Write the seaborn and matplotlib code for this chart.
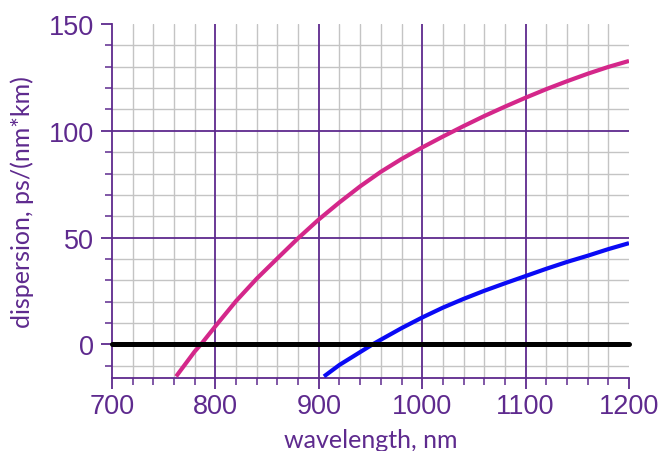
import numpy as np
import pandas as pd
import matplotlib
matplotlib.use("Agg")
import matplotlib.pyplot as plt
import seaborn as sns
from matplotlib.ticker import FixedLocator

# --- data ---
magenta_wl = [762, 780, 786, 800, 820, 840, 860, 880, 900, 920, 940, 960, 980, 1000,
              1020, 1040, 1060, 1080, 1100, 1120, 1140, 1160, 1180, 1200]
magenta_d = [-15, -3.3, 0, 8.5, 20.3, 30.8, 40.3, 49.7, 58.5, 66.5, 74, 80.8, 86.8, 92.2,
             97.3, 102.2, 106.9, 111.3, 115.5, 119.5, 123.2, 126.7, 129.9, 132.7]
blue_wl = [905, 920, 940, 952, 960, 980, 1000, 1020, 1040, 1060, 1080, 1100,
           1120, 1140, 1160, 1180, 1200]
blue_d = [-15, -9.6, -3.6, 0, 2.2, 7.6, 12.6, 17.2, 21.3, 25.1, 28.6, 32,
          35.4, 38.6, 41.5, 44.6, 47.4]
zero_wl = [700, 1200]
zero_d = [0, 0]
x_ticks = [700, 800, 900, 1000, 1100, 1200]
y_ticks = [0, 50, 100, 150]
x_minor = [720, 740, 760, 780, 820, 840, 860, 880, 920, 940, 960, 980,
           1020, 1040, 1060, 1080, 1120, 1140, 1160, 1180]
y_minor = [-10, 10, 20, 30, 40, 60, 70, 80, 90, 110, 120, 130, 140]

PURPLE = "#5e2a8e"
MAGENTA = "#d4278a"
BLUE = "#0a0af5"
GRID = "#c4c4c4"

sns.set_theme(style="white")
plt.rcParams["font.family"] = ["Liberation Sans", "DejaVu Sans"]

fig = plt.figure(figsize=(6.64, 4.52), dpi=100)
ax = fig.add_axes([112 / 664, (452 - 378.5) / 452, (629 - 112) / 664, (378.5 - 25) / 452])

df_m = pd.DataFrame({"wl": magenta_wl, "d": magenta_d})
df_b = pd.DataFrame({"wl": blue_wl, "d": blue_d})
df_z = pd.DataFrame({"wl": zero_wl, "d": zero_d})

ax.set_xlim(700, 1200)
ax.set_ylim(-15.5, 150)

# grid (none at the plot edges, as in the reference)
for v in x_minor:
    ax.axvline(v, color=GRID, lw=1.0, zorder=0)
for v in y_minor:
    ax.axhline(v, color=GRID, lw=1.0, zorder=0)
for v in x_ticks:
    if v not in (700, 1200):
        ax.axvline(v, color=PURPLE, lw=1.3, zorder=1)
for v in y_ticks:
    if v not in (0, 150):
        ax.axhline(v, color=PURPLE, lw=1.3, zorder=1)

sns.lineplot(data=df_m, x="wl", y="d", ax=ax, color=MAGENTA, lw=3.0, zorder=4,
             solid_capstyle="butt")
sns.lineplot(data=df_b, x="wl", y="d", ax=ax, color=BLUE, lw=3.0, zorder=4,
             solid_capstyle="butt")
sns.lineplot(data=df_z, x="wl", y="d", ax=ax, color="black", lw=3.6, zorder=5,
             solid_capstyle="round", clip_on=False)

ax.set_xlim(700, 1200)
ax.set_ylim(-15.5, 150)
ax.set_xticks(x_ticks)
ax.set_yticks(y_ticks)
ax.xaxis.set_minor_locator(FixedLocator(x_minor))
ax.yaxis.set_minor_locator(FixedLocator(y_minor))
ax.grid(False)

for s in ["top", "right"]:
    ax.spines[s].set_visible(False)
for s in ["left", "bottom"]:
    ax.spines[s].set_color(PURPLE)
    ax.spines[s].set_linewidth(1.3)

ax.tick_params(which="major", direction="out", length=8, width=1.3, color=PURPLE,
               labelcolor=PURPLE, labelsize=19.5, pad=3)
ax.tick_params(which="minor", direction="out", length=5, width=1.1, color=PURPLE)
ax.tick_params(axis="y", which="major", pad=5)
ax.tick_params(bottom=True, left=True, which="both")

ax.set_xlabel("wavelength, nm", color=PURPLE, fontsize=18, family=["Lato", "DejaVu Sans"])
ax.set_ylabel("dispersion, ps/(nm*km)", color=PURPLE, fontsize=18, family=["Lato", "DejaVu Sans"])
ax.xaxis.set_label_coords(0.5, (378.5 - 440.5) / 353.5)
ax.xaxis.label.set_va("center")
ax.yaxis.set_label_coords((22 - 112) / 517, 0.5)
ax.yaxis.label.set_va("center")

fig.savefig("out.png", dpi=100)
